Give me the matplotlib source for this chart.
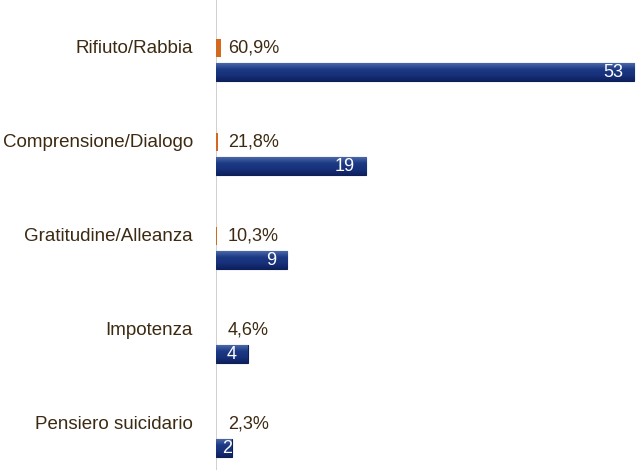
import matplotlib.pyplot as plt
import numpy as np
from matplotlib.colors import LinearSegmentedColormap

categories = ['Rifiuto/Rabbia', 'Comprensione/Dialogo', 'Gratitudine/Alleanza',
              'Impotenza', 'Pensiero suicidario']
counts = [53, 19, 9, 4, 2]
percents = [0.609, 0.218, 0.103, 0.046, 0.023]
percent_labels = ['60,9%', '21,8%', '10,3%', '4,6%', '2,3%']

plt.rcParams['font.family'] = ['Liberation Sans', 'DejaVu Sans']

fig = plt.figure(figsize=(6.4, 4.7), dpi=100)
ax = fig.add_axes([216 / 640, 0, 424 / 640, 1])

y = np.arange(len(categories))
off = 0.128
h = 0.19

# vertical shading for the blue bars
shade = LinearSegmentedColormap.from_list('shade', ['#4a68a8', '#1d3a85', '#17317a', '#0e2160'])
grad = np.linspace(0, 1, 64).reshape(-1, 1)

ax.barh(y - off, percents, height=h, color='#d2691e')
bars = ax.barh(y + off, counts, height=h, color='#1b3580', edgecolor='#0e1f55', linewidth=0.8)

for i, b in enumerate(bars):
    im = ax.imshow(grad, cmap=shade, aspect='auto', zorder=2.5,
                   extent=[0, counts[i], y[i] + off + h / 2, y[i] + off - h / 2])
    im.set_clip_path(b)
    ax.annotate(categories[i], xy=(0, y[i] - off), xytext=(-23, 0), textcoords='offset pixels',
                ha='right', va='center', fontsize=13.5, color='#3d2a12', annotation_clip=False)
    ax.annotate(percent_labels[i], xy=(0, y[i] - off), xytext=(12, 0), textcoords='offset pixels',
                ha='left', va='center', fontsize=13, color='#3d2a12')
    gap = -11 if counts[i] > 3 else 0
    t = ax.annotate(str(counts[i]), xy=(counts[i], y[i] + off), xytext=(gap, 0),
                    textcoords='offset pixels', ha='right', va='center',
                    fontsize=13, color='white', zorder=4)
    t.set_clip_path(b)

ax.set_xlim(0, 53.7)
ax.set_ylim(4.36, -0.64)
ax.axvline(0, color='#c8c8c8', linewidth=1.2, zorder=0)
for s in ax.spines.values():
    s.set_visible(False)
ax.set_xticks([])
ax.set_yticks([])

fig.savefig('out.png')
